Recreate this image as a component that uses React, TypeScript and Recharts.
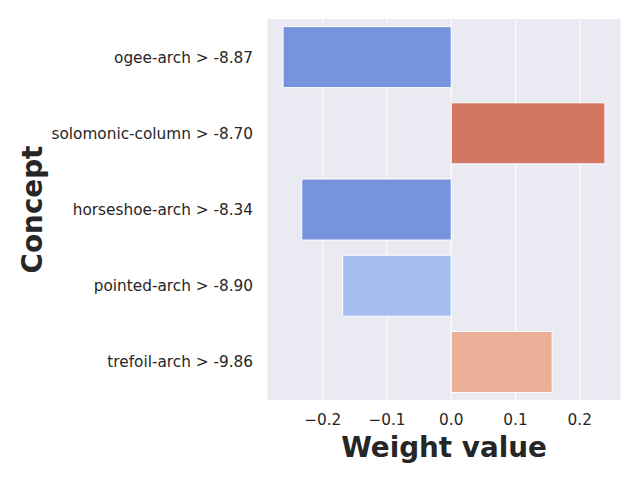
import React from "react";
import { BarChart, Bar, XAxis, YAxis, CartesianGrid, Cell } from "recharts";

const concepts = [
  "ogee-arch > -8.87",
  "solomonic-column > -8.70",
  "horseshoe-arch > -8.34",
  "pointed-arch > -8.90",
  "trefoil-arch > -9.86",
];
const weights = [-0.2617, 0.2392, -0.2326, -0.169, 0.157];
const barColors = ["#7893DE", "#D37662", "#7893DE", "#A5BFF2", "#EAAF97"];
const xTicks = [-0.2, -0.1, 0.0, 0.1, 0.2];
const xDomain = [-0.2867, 0.2642];

const data = concepts.map((c, i) => ({ concept: c, weight: weights[i] }));

const FONT = "DejaVu Sans";
const TEXT = "#262626";

const fmt = (v: number) => {
  const s = Math.abs(v).toFixed(1);
  return v < -1e-9 ? "\u2212" + s : s;
};

export default function App() {
  return (
    <div style={{ position: "absolute", left: 0, top: 0, width: 640, height: 480, background: "#fff" }}>
      <BarChart
        width={640}
        height={480}
        data={data}
        layout="vertical"
        margin={{ top: 19, right: 19, bottom: 0, left: 0 }}
        barCategoryGap="10%"
      >
        <CartesianGrid fill="#EAEAF2" stroke="#FFFFFF" strokeWidth={1} horizontal={false} />
        <XAxis
          type="number"
          dataKey="weight"
          domain={xDomain}
          ticks={xTicks}
          allowDataOverflow
          tickFormatter={fmt}
          axisLine={false}
          tickLine={false}
          tickSize={0}
          tickMargin={14}
          height={80}
          tick={{ fill: TEXT, fontSize: 15.3, fontFamily: FONT }}
          label={(props: any) => {
            const vb = props.viewBox;
            return (
              <text
                x={vb.x + vb.width / 2}
                y={vb.y + 57}
                textAnchor="middle"
                fill={TEXT}
                fontFamily={FONT}
                fontWeight="bold"
                fontSize={27.8}
              >
                Weight value
              </text>
            );
          }}
        />
        <YAxis
          type="category"
          dataKey="concept"
          width={267}
          axisLine={false}
          tickLine={false}
          tickSize={0}
          tickMargin={14}
          tick={{ fill: TEXT, fontSize: 15.3, fontFamily: FONT }}
          label={(props: any) => {
            const vb = props.viewBox;
            const cy = vb.y + vb.height / 2;
            return (
              <text
                x={42}
                y={cy}
                transform={`rotate(-90, 42, ${cy})`}
                textAnchor="middle"
                fill={TEXT}
                fontFamily={FONT}
                fontWeight="bold"
                fontSize={27.8}
              >
                Concept
              </text>
            );
          }}
        />
        <Bar dataKey="weight" isAnimationActive={false} stroke="#FFFFFF" strokeWidth={1}>
          {data.map((d, i) => (
            <Cell key={d.concept} fill={barColors[i]} />
          ))}
        </Bar>
      </BarChart>
    </div>
  );
}
